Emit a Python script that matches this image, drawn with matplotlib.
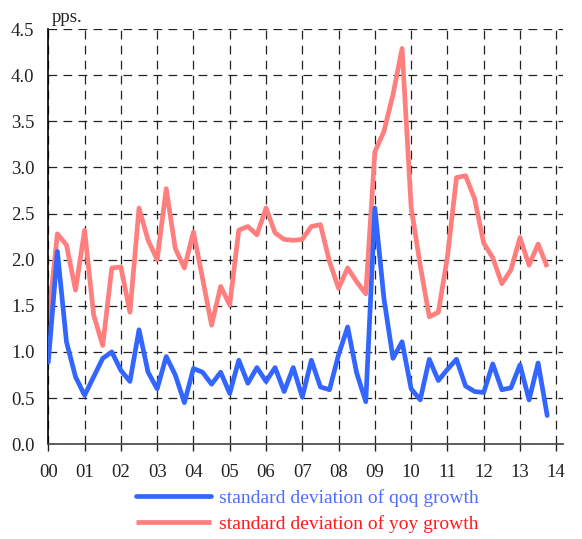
import numpy as np
import matplotlib
matplotlib.use("Agg")
from matplotlib import pyplot as plt

# quarterly data 2000Q1 - 2013Q4
qoq_sd = [0.89, 2.09, 1.11, 0.73,
          0.53, 0.73, 0.93, 1.00,
          0.80, 0.68, 1.24, 0.78,
          0.60, 0.95, 0.75, 0.45,
          0.82, 0.78, 0.65, 0.78,
          0.55, 0.91, 0.66, 0.83,
          0.68, 0.83, 0.57, 0.83,
          0.51, 0.91, 0.62, 0.59,
          0.97, 1.27, 0.77, 0.46,
          2.56, 1.58, 0.93, 1.11,
          0.60, 0.48, 0.92, 0.69,
          0.81, 0.92, 0.63, 0.57,
          0.56, 0.87, 0.59, 0.61,
          0.86, 0.48, 0.88, 0.31]
yoy_sd = [1.34, 2.28, 2.16, 1.67,
          2.32, 1.40, 1.07, 1.91,
          1.92, 1.43, 2.56, 2.21,
          2.00, 2.77, 2.12, 1.91,
          2.30, 1.80, 1.29, 1.71,
          1.51, 2.32, 2.36, 2.27,
          2.56, 2.29, 2.22, 2.21,
          2.22, 2.36, 2.38, 1.98,
          1.69, 1.91, 1.76, 1.63,
          3.17, 3.39, 3.79, 4.29,
          2.57, 1.94, 1.38, 1.43,
          2.03, 2.89, 2.91, 2.66,
          2.18, 2.02, 1.74, 1.89,
          2.24, 1.94, 2.17, 1.92]
year_labels = ['00', '01', '02', '03', '04', '05', '06', '07',
               '08', '09', '10', '11', '12', '13', '14']

plt.rcParams['font.family'] = ['Liberation Serif', 'DejaVu Serif']
plt.rcParams['font.size'] = 13.5

t = np.arange(len(qoq_sd)) / 4.0

fig = plt.figure(figsize=(5.82, 5.39), dpi=100)
ax = fig.add_axes([0.083, 0.176, 0.884, 0.770])

ax.plot(t, qoq_sd, color='#3366ff', lw=3.4, solid_capstyle='round',
        solid_joinstyle='round', label='standard deviation of qoq growth', zorder=3)
ax.plot(t, yoy_sd, color='#ff7f7f', lw=3.4, solid_capstyle='butt',
        solid_joinstyle='round', label='standard deviation of yoy growth', zorder=2)

ax.set_xlim(0, 14.18)
ax.set_ylim(0, 4.5)
ax.set_xticks(range(15))
ax.set_xticklabels(year_labels)
ax.set_yticks(np.arange(0, 4.51, 0.5))
ax.set_yticklabels(['%.1f' % v for v in np.arange(0, 4.51, 0.5)])

for s in ['top', 'right']:
    ax.spines[s].set_visible(False)
ax.spines['left'].set_linewidth(1.2)
ax.spines['bottom'].set_color('#444444')
ax.spines['bottom'].set_linewidth(1.2)

ax.tick_params(axis='y', length=0, pad=10, colors='#222222')
ax.tick_params(axis='x', length=5, width=1, direction='out', pad=9, colors='#222222')

ax.grid(True, color='#222222', linestyle=(0, (7, 5)), linewidth=0.9)
ax.set_axisbelow(True)

fig.text(0.089, 0.967, 'pps.', fontsize=13.5, color='#222222', va='center')

leg = fig.legend(loc='upper left', bbox_to_anchor=(0.233, 0.092), frameon=False,
                 fontsize=14, handlelength=3.9, handletextpad=0.4, labelspacing=0.4,
                 borderaxespad=0, borderpad=0)
leg.get_texts()[0].set_color('#4d6dff')
leg.get_texts()[1].set_color('#ff1a1a')

fig.savefig('out.png', dpi=100)
